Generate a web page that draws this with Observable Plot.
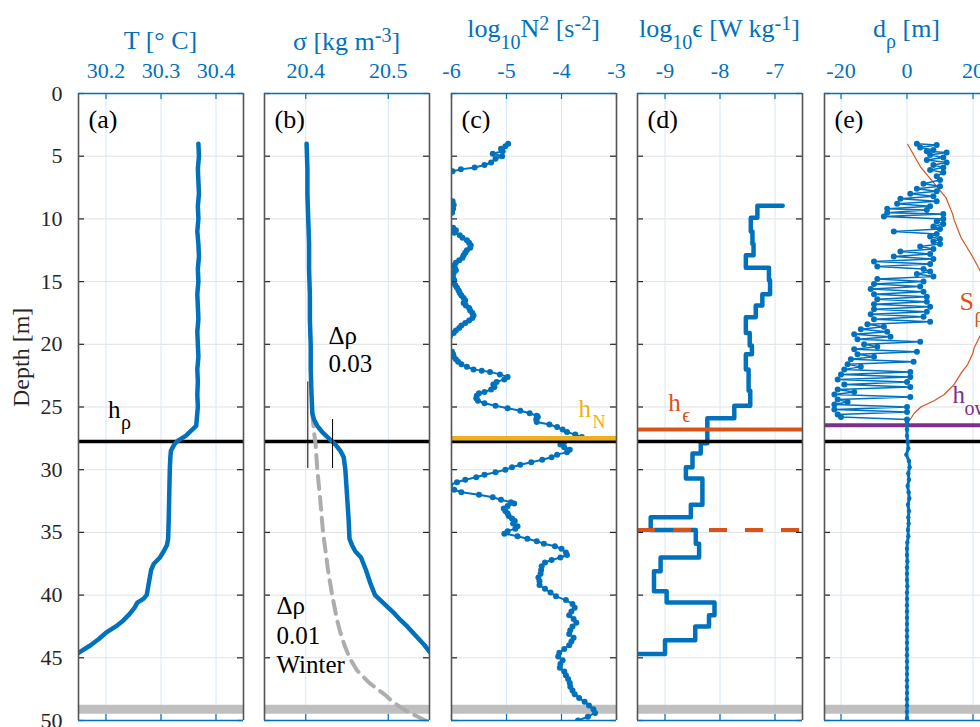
<!DOCTYPE html>
<html><head><meta charset="utf-8">
<script src="https://cdn.jsdelivr.net/npm/d3@7"></script>
<script src="https://cdn.jsdelivr.net/npm/@observablehq/plot@0.6"></script>
<style>
html,body{margin:0;padding:0;background:#fff;overflow:hidden}
#wrap{position:relative;width:980px;height:727px;overflow:hidden;background:#fff}
#wrap svg{position:absolute;top:0}
</style></head><body><div id="wrap"></div>
<script>
const BLUE="#0072BD", ORANGE="#D95319", YELLOW="#EDB120", PURPLE="#7E2F8E", GREY="#BFBFBF", AX="#262626";
const FONT="'Liberation Serif','Times New Roman',serif";

const depthTicks=[0,5,10,15,20,25,30,35,40,45,50];
const hRho=27.75, hBottom=49.1, hN=27.5, hEps=26.8, hEps2=34.8, hOw=26.45;

// (a) temperature
const tDepth=[4,5,6,7,8,9,10,11,12,13,14,15,16,17,18,19,20,21,22,23,24,25,26,26.5,27,27.3,27.7,28,28.5,29,30,32,34,35.5,36,36.5,37,37.5,38,39,40,40.3,40.6,41,41.5,42,42.5,43,43.5,44,44.6,45];
const tVal=[30.368,30.369,30.367,30.368,30.369,30.367,30.368,30.366,30.368,30.369,30.367,30.368,30.366,30.367,30.368,30.366,30.367,30.368,30.366,30.367,30.366,30.367,30.365,30.364,30.352,30.345,30.330,30.324,30.318,30.317,30.316,30.315,30.314,30.313,30.311,30.305,30.298,30.287,30.282,30.278,30.274,30.268,30.257,30.252,30.243,30.232,30.218,30.200,30.187,30.172,30.150,30.140];

// (b) density
const sDepth=[4,6,8,10,12,14,16,18,20,22,24,25.5,26,26.5,27,27.5,28,28.5,29,30,32,34,35.5,36,36.5,37,38,39,40,40.5,41,41.5,42,42.5,43,43.5,44,44.5,45];
const sVal=[20.401,20.402,20.402,20.403,20.404,20.404,20.405,20.405,20.406,20.406,20.407,20.408,20.410,20.414,20.420,20.428,20.436,20.442,20.446,20.448,20.450,20.452,20.453,20.456,20.460,20.467,20.473,20.478,20.484,20.492,20.500,20.508,20.515,20.523,20.530,20.537,20.544,20.550,20.556];
const wDepth=[25.5,27,28,30,32,35,38,40,42,43,44,45,46,47,48,48.5,49,49.5,50];
const wVal=[20.408,20.410,20.412,20.414,20.417,20.421,20.427,20.432,20.438,20.442,20.447,20.453,20.462,20.477,20.497,20.505,20.516,20.530,20.545];
const dRhoBars=[{x:20.4025,top:23,bottom:29.9},{x:20.4325,top:26,bottom:29.9}];

// (c) log10 N^2
const nDepth=[4.0,4.2,4.4,4.6,4.8,5.0,5.2,5.5,5.7,5.9,6.05,6.2,6.5,7.5,8.4,8.6,8.9,9.2,9.5,9.8,10.4,10.7,10.9,11.1,11.3,11.5,11.7,11.9,12.1,12.3,12.5,12.7,12.9,13.1,13.3,13.5,13.7,13.9,14.1,14.3,14.5,14.7,14.9,15.1,15.3,15.5,15.7,15.9,16.1,16.3,16.5,16.7,16.9,17.1,17.3,17.5,17.7,17.9,18.1,18.3,18.5,18.7,18.9,19.1,19.3,19.6,20.3,20.6,20.8,21.0,21.2,21.4,21.6,21.8,22.0,22.1,22.2,22.4,22.6,22.8,23.0,23.2,23.4,23.6,23.8,23.9,24.1,24.3,24.5,24.7,24.9,25.1,25.3,25.5,25.7,25.8,26.0,26.2,26.4,26.6,26.8,27.0,27.2,27.4,27.6,27.8,28.0,28.2,28.4,28.6,28.8,29.0,29.2,29.4,29.6,29.8,30.0,30.2,30.4,30.6,30.8,31.0,31.2,31.4,31.6,31.8,32.0,32.2,32.4,32.6,32.7,32.9,33.1,33.3,33.5,33.7,33.9,34.1,34.3,34.5,34.7,34.9,35.1,35.3,35.5,35.7,35.9,36.1,36.3,36.6,36.8,37.0,37.2,37.4,37.7,38.0,38.3,38.6,38.9,39.2,39.5,39.8,40.1,40.4,40.7,41.0,41.3,41.6,41.9,42.2,42.5,42.8,43.1,43.4,43.7,44.0,44.3,44.6,44.9,45.2,45.5,45.8,46.1,46.4,46.7,47.0,47.3,47.6,47.9,48.2,48.5,48.8,49.1,49.4,49.7,50.0];
const nVal=[-4.97,-5.02,-5.10,-5.07,-5.25,-5.08,-5.20,-5.28,-5.40,-5.58,-5.83,-5.98,-6.3,-6.4,-6.05,-5.98,-5.96,-5.97,-5.99,-6.1,-6.05,-5.97,-5.92,-5.95,-5.85,-5.80,-5.72,-5.68,-5.65,-5.66,-5.72,-5.75,-5.78,-5.80,-5.86,-5.92,-5.95,-5.94,-5.92,-5.96,-5.98,-5.97,-5.95,-5.98,-5.93,-5.90,-5.87,-5.85,-5.82,-5.78,-5.75,-5.78,-5.74,-5.68,-5.66,-5.62,-5.60,-5.62,-5.68,-5.75,-5.82,-5.86,-5.92,-5.96,-6.02,-6.2,-6.1,-5.99,-5.97,-5.96,-5.92,-5.88,-5.82,-5.72,-5.60,-5.45,-5.30,-5.12,-4.98,-5.04,-5.18,-5.24,-5.22,-5.28,-5.40,-5.50,-5.54,-5.55,-5.52,-5.40,-5.20,-4.98,-4.75,-4.58,-4.45,-4.43,-4.46,-4.45,-4.22,-4.08,-3.98,-3.90,-3.75,-3.63,-3.78,-3.95,-4.02,-3.95,-3.85,-3.90,-4.08,-4.18,-4.35,-4.55,-4.75,-4.90,-5.02,-5.20,-5.40,-5.55,-5.75,-5.90,-6.02,-6.05,-5.95,-5.82,-5.50,-5.25,-5.10,-4.92,-4.86,-4.98,-5.05,-5.02,-4.98,-4.96,-4.90,-4.85,-4.88,-4.80,-4.84,-4.98,-5.04,-4.80,-4.62,-4.45,-4.32,-4.12,-4.00,-3.92,-3.90,-4.02,-4.18,-4.30,-4.36,-4.37,-4.38,-4.42,-4.40,-4.40,-4.30,-4.20,-4.10,-3.92,-3.80,-3.76,-3.82,-3.86,-3.78,-3.73,-3.80,-3.84,-3.86,-3.78,-3.82,-3.86,-3.95,-4.04,-4.06,-3.98,-4.02,-4.03,-3.95,-3.92,-3.88,-3.85,-3.84,-3.80,-3.76,-3.68,-3.58,-3.50,-3.42,-3.39,-3.52,-3.70];

// (d) log10 epsilon, bins
const epsEdges=[8.96,8.96,9.9,11.0,12.0,12.9,13.9,14.9,16.0,16.9,17.85,19.1,20.1,20.8,22.0,23.7,24.9,25.9,27.9,28.7,29.8,30.7,32.8,33.8,34.8,35.9,37.0,38.1,39.7,40.6,41.6,42.5,43.6,44.7,44.7];
const epsVals=[-6.86,-7.32,-7.44,-7.41,-7.39,-7.53,-7.11,-7.09,-7.23,-7.35,-7.53,-7.46,-7.42,-7.53,-7.48,-7.45,-7.74,-8.23,-8.35,-8.5,-8.62,-8.32,-8.53,-9.26,-8.44,-8.38,-9.08,-9.2,-8.97,-8.1,-8.2,-8.45,-9.0,-9.55];

// (e) Thorpe displacements
const thDepth=[4.0,4.1,4.3,4.5,4.6,4.7,4.9,5.1,5.3,5.5,5.7,5.9,6.1,6.3,6.6,6.9,7.2,7.4,7.6,7.8,8.0,8.2,8.4,8.6,8.8,9.0,9.2,9.3,9.5,9.6,9.8,10.0,10.2,10.4,10.6,10.8,11.0,11.2,11.4,11.6,11.8,12.0,12.2,12.4,12.6,12.8,13.0,13.2,13.4,13.6,13.8,14.0,14.2,14.4,14.6,14.8,15.0,15.2,15.4,15.6,15.8,16.0,16.2,16.4,16.6,16.8,17.0,17.2,17.4,17.6,17.8,18.0,18.2,18.4,18.6,18.8,19.0,19.2,19.4,19.6,19.8,20.0,20.2,20.4,20.6,20.8,21.0,21.2,21.4,21.6,21.8,22.0,22.2,22.4,22.6,22.8,23.0,23.2,23.4,23.6,23.8,24.0,24.2,24.4,24.6,24.8,25.0,25.2,25.4,25.6,25.8,26.0];
const thD=[3,9,4,8,6,12,7,11,6,12,8,11,7,11,9,10,5,10,3,9,1,8,-2,9,-3,7,-6,6,-6,11,-7,11,9,11,8,10,-4,9,7,10,8,10,4,8,-2,7,-4,8,-10,7,-9,5,7,3,8,-9,5,-10,4,-11,5,-10,6,-9,6,-10,7,-10,6,-11,5,-10,7,-12,-7,-14,-6,-16,-5,-15,4,-13,-9,-16,3,-15,-10,-17,2,-18,-14,-19,1,-20,1,-21,0,-19,1,-21,-16,-22,1,-21,-18,-22,0,-22,0,-21,-20,0];
const deepDepth=[26.3,26.8,27.3,27.8,28.3,28.8,29.3,29.8,30.3,30.8,31.3,31.8,32.3,32.8,33.3,33.8,34.3,34.8,35.3,35.8,36.3,36.8,37.3,37.8,38.3,38.8,39.3,39.8,40.3,40.8,41.3,41.8,42.3,42.8,43.3,43.8,44.3,44.8,45.3,45.8,46.3,46.8,47.3,47.8,48.3,48.8,49.3,49.8,50];
const deepD=[0,0,0,0.2,0.4,-0.2,0.6,0.8,0.4,0.6,0.2,0.5,0.7,0.3,0.6,0.4,0.5,0.3,0.4,0.1,0,0,0.1,0,0,0,0.1,0,0,0,0,0,0,0,0,0,0,0,0,0,0,0,0,0,0,0,0,0,0];
const sRhoDepth=[4.05,5.9,7.5,8.3,9.6,10.1,11.5,12.8,14.0,16.0,18.0,19.2,20.25,20.75,21.6,22.3,23.2,24.0,24.5,25.0,25.5,25.9,26.3];
const sRhoVal=[0.2,4.2,9.3,11.8,13.8,14.3,16.4,19.4,21.9,25.5,26.0,22.4,20.4,19.9,18.4,16.4,14.3,11.3,8.2,4.2,2.2,1.2,0.0];

const W=165, TOP=93, BOT=7, H=727;
const TITLE=26, SUB=20, TICK=22, TAG=26, ANN=25;
const wrap=document.getElementById("wrap");

function ann(list){ // list of {x,y,text,fill,size,dx,dy}
  return list.map(o=>Plot.text([o],{x:"x",y:"y",text:"text",fill:o.fill||"#000",fontSize:o.size||ANN,textAnchor:"start",lineAnchor:"bottom",dx:o.dx||0,dy:o.dy||0}));
}

function richTitle(svg,cx,baseline,parts,color,size){
  const t=d3.select(svg).append("text").attr("x",cx).attr("y",baseline).attr("text-anchor","middle")
    .attr("fill",color).attr("font-family",FONT).attr("font-size",size).style("white-space","pre");
  let shift=0;
  for(const p of parts){
    const s=typeof p==="string"?{t:p,o:0}:p;
    t.append("tspan").attr("dy",s.o-shift).attr("font-size",s.o? SUB:size).text(s.t);
    shift=s.o;
  }
}

function panel({left,mL,mR,domain,ticks,marks,title,titleBase,tag,yaxis,pre=[]}){
  const xr=domain[1]-domain[0];
  const tx=6*xr/W, ty=6*50/(H-TOP-BOT);
  const m=[
    Plot.ruleY(depthTicks,{stroke:"#e1e1e1",strokeWidth:1}),
    Plot.ruleX(ticks,{stroke:"#d8e8f5",strokeWidth:1}),
    ...pre,
    ...marks,
    Plot.ruleX(ticks,{y1:0,y2:ty,stroke:BLUE,strokeWidth:1.2}),
    Plot.ruleX(ticks,{y1:50,y2:50-ty,stroke:BLUE,strokeWidth:1.2}),
    Plot.ruleY(depthTicks,{x1:domain[0],x2:domain[0]+tx,stroke:AX,strokeWidth:1.2}),
    Plot.ruleY(depthTicks,{x1:domain[1],x2:domain[1]-tx,stroke:AX,strokeWidth:1.2}),
    Plot.ruleX(domain,{stroke:"#555",strokeWidth:1.6}),
    Plot.ruleY([0,50],{stroke:BLUE,strokeWidth:1.6}),
    Plot.axisX(ticks,{anchor:"top",tickSize:0,tickPadding:16,fontSize:TICK,fill:BLUE,tickFormat:d=>String(d),label:null}),
    Plot.text([tag],{frameAnchor:"top-left",dx:10,dy:34,text:d=>d,fontSize:TAG,fill:"#000",textAnchor:"start",lineAnchor:"bottom"})
  ];
  if(yaxis){
    m.push(Plot.axisY(depthTicks,{anchor:"left",tickSize:0,tickPadding:16,fontSize:TICK,fill:AX,tickFormat:d=>String(d),label:null}));
    m.push(Plot.text(["Depth [m]"],{frameAnchor:"left",rotate:-90,dx:-57,text:d=>d,fontSize:24,fill:AX}));
  }
  const svg=Plot.plot({
    width:W+mL+mR,height:H,marginLeft:mL,marginRight:mR,marginTop:TOP,marginBottom:BOT,
    style:{fontFamily:FONT,background:"transparent",overflow:"visible"},
    x:{domain,axis:null},
    y:{domain:[0,50],reverse:true,axis:null},
    marks:m
  });
  svg.style.left=(left-mL)+"px";
  richTitle(svg,mL+W/2,titleBase,title,BLUE,TITLE);
  wrap.appendChild(svg);
}

const hLines=(extra=[])=>[
  Plot.ruleY([hBottom],{stroke:GREY,strokeWidth:9}),
  ...extra,
  Plot.ruleY([hRho],{stroke:"#000",strokeWidth:3.5})
];

// (a)
panel({left:78,mL:78,mR:10,domain:[30.15,30.45],ticks:[30.2,30.3,30.4],tag:"(a)",yaxis:true,
  title:["T [° C]"],titleBase:49,
  pre:hLines(),
  marks:[
    Plot.line(tDepth.map((d,i)=>({d,v:tVal[i]})),{x:"v",y:"d",stroke:BLUE,strokeWidth:4.5,clip:true}),
    ...ann([{x:30.2035,y:25.85,text:"h"},{x:30.2035,y:25.85,text:"ρ",size:SUB,dx:13,dy:11}])
  ]});

// (b)
panel({left:264,mL:12,mR:10,domain:[20.35,20.55],ticks:[20.4,20.5],tag:"(b)",
  title:["σ [kg m",{t:"-3",o:-8},"]"],titleBase:50,
  pre:hLines(),
  marks:[
    Plot.line(wDepth.map((d,i)=>({d,v:wVal[i]})),{x:"v",y:"d",stroke:"#ADADAD",strokeWidth:4,strokeDasharray:"13,8",clip:true}),
    Plot.line(sDepth.map((d,i)=>({d,v:sVal[i]})),{x:"v",y:"d",stroke:BLUE,strokeWidth:4.5,clip:true}),
    Plot.ruleX(dRhoBars,{x:"x",y1:"top",y2:"bottom",stroke:"#000",strokeWidth:1}),
    ...ann([
      {x:20.4275,y:20.0,text:"Δρ"},{x:20.4275,y:22.2,text:"0.03"},
      {x:20.3645,y:41.5,text:"Δρ"},{x:20.3645,y:43.9,text:"0.01"},{x:20.3645,y:46.25,text:"Winter"}
    ])
  ]});

// (c)
const nData=nDepth.map((d,i)=>({d,v:nVal[i]}));
panel({left:451,mL:12,mR:10,domain:[-6,-3],ticks:[-6,-5,-4,-3],tag:"(c)",
  title:["log",{t:"10",o:12},"N",{t:"2",o:-7}," [s",{t:"-2",o:-7},"]"],titleBase:37,
  pre:[Plot.ruleY([hBottom],{stroke:GREY,strokeWidth:9})],
  marks:[
    Plot.line(nData,{x:"v",y:"d",stroke:BLUE,strokeWidth:2,clip:true}),
    Plot.dot(nData,{x:"v",y:"d",fill:BLUE,r:3,clip:true}),
    Plot.ruleY([hRho],{stroke:"#000",strokeWidth:3.5}),
    Plot.ruleY([hN],{stroke:YELLOW,strokeWidth:4.5}),
    ...ann([{x:-3.69,y:25.8,text:"h",fill:YELLOW},{x:-3.69,y:25.8,text:"N",fill:YELLOW,size:18,dx:14,dy:11}])
  ]});

// (d)
const stairs=[];
epsVals.forEach((v,i)=>{stairs.push({v,d:epsEdges[i]});stairs.push({v,d:epsEdges[i+1]});});
panel({left:637,mL:12,mR:10,domain:[-9.5,-6.5],ticks:[-9,-8,-7],tag:"(d)",
  title:["log",{t:"10",o:12},"ϵ [W kg",{t:"-1",o:-7},"]"],titleBase:37,
  pre:[Plot.ruleY([hBottom],{stroke:GREY,strokeWidth:9})],
  marks:[
    Plot.line(stairs,{x:"v",y:"d",stroke:BLUE,strokeWidth:4.5,clip:true}),
    Plot.ruleY([hRho],{stroke:"#000",strokeWidth:3.5}),
    Plot.ruleY([hEps],{stroke:ORANGE,strokeWidth:4}),
    Plot.ruleY([hEps2],{stroke:ORANGE,strokeWidth:4,strokeDasharray:"18,18"}),
    ...ann([{x:-8.94,y:25.3,text:"h",fill:ORANGE},{x:-8.94,y:25.3,text:"ϵ",fill:ORANGE,size:SUB,dx:14,dy:11}])
  ]});

// (e)
const thData=thDepth.map((d,i)=>({d,v:thD[i]}));
const deepData=deepDepth.map((d,i)=>({d,v:deepD[i]}));
panel({left:824,mL:12,mR:10,domain:[-25,25],ticks:[-20,0,20],tag:"(e)",
  title:["d",{t:"ρ",o:11}," [m]"],titleBase:37,
  pre:hLines([Plot.ruleY([hOw],{stroke:PURPLE,strokeWidth:4})]),
  marks:[
    Plot.line(sRhoDepth.map((d,i)=>({d,v:sRhoVal[i]})),{x:"v",y:"d",stroke:ORANGE,strokeWidth:1.2,clip:true}),
    Plot.line(thData,{x:"v",y:"d",stroke:BLUE,strokeWidth:1.5,clip:true}),
    Plot.dot(thData,{x:"v",y:"d",fill:BLUE,r:3,clip:true}),
    Plot.line(deepData,{x:"v",y:"d",stroke:BLUE,strokeWidth:3,clip:true}),
    Plot.dot(deepData,{x:"v",y:"d",fill:BLUE,r:2.2,clip:true}),
    ...ann([
      {x:15.9,y:17.3,text:"S",fill:ORANGE,size:26},{x:15.9,y:17.3,text:"ρ",fill:ORANGE,size:SUB,dx:15,dy:12},
      {x:13.8,y:24.7,text:"h",fill:PURPLE},{x:13.8,y:24.7,text:"ow",fill:PURPLE,size:SUB,dx:12,dy:12}
    ])
  ]});
</script></body></html>
